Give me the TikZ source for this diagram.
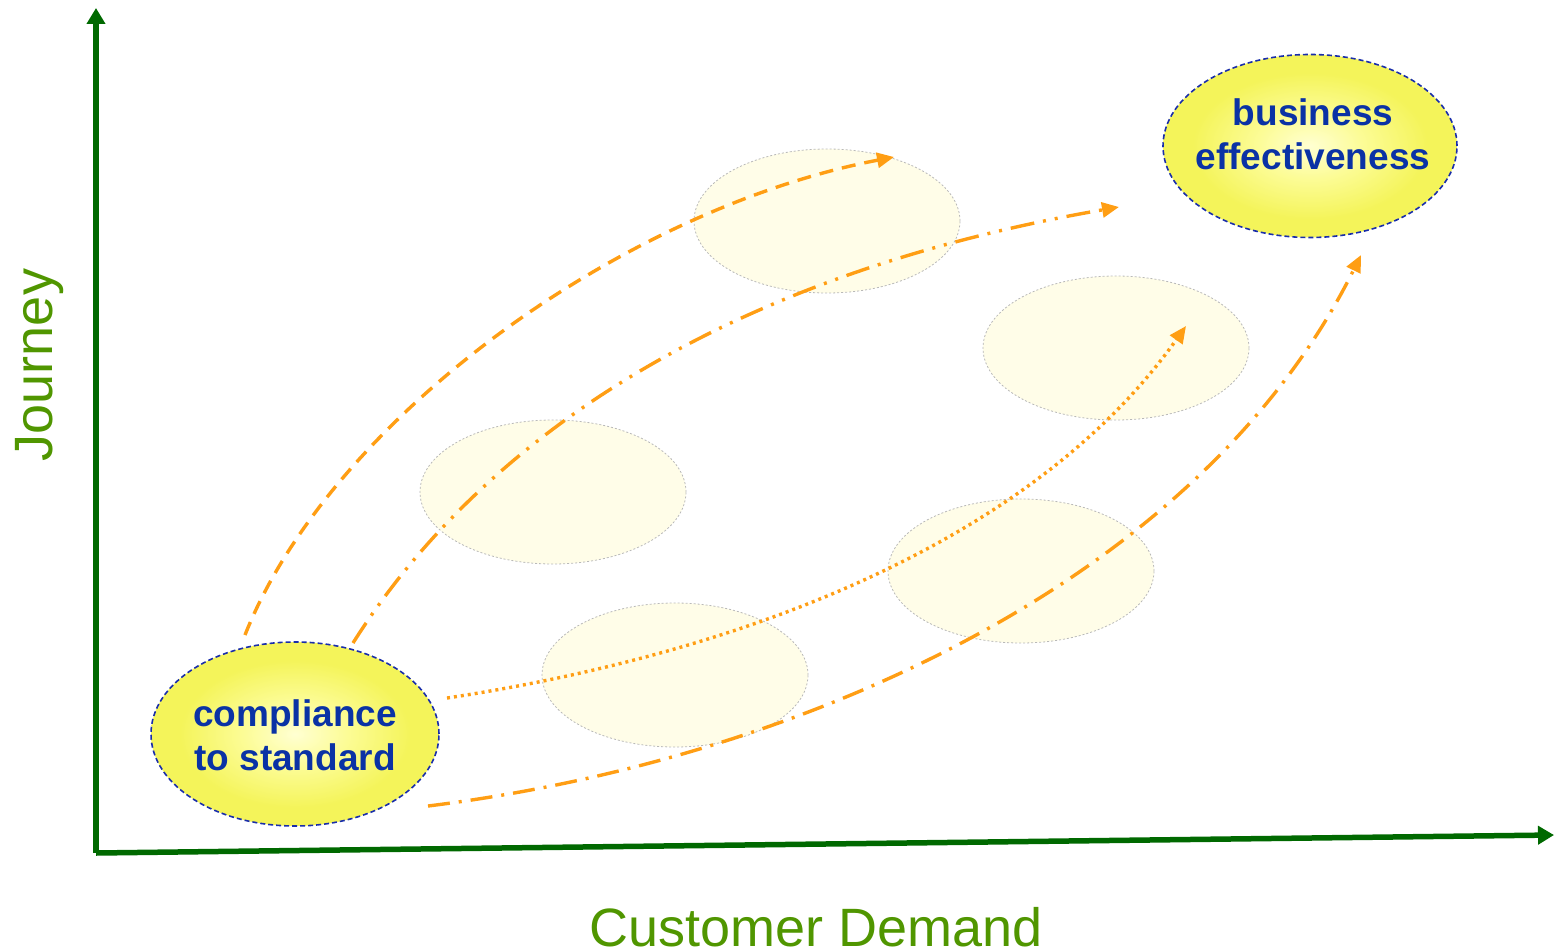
\documentclass[tikz,border=0pt]{standalone}
\usepackage{fontspec}
\setmainfont{Liberation Sans}
\usetikzlibrary{arrows.meta,shapes.geometric}
\definecolor{axisgreen}{RGB}{0,105,0}
\definecolor{labelgreen}{RGB}{80,150,0}
\definecolor{arroworange}{RGB}{255,158,20}
\definecolor{textblue}{RGB}{10,50,165}
\definecolor{borderblue}{RGB}{25,45,170}
\definecolor{palefill}{RGB}{255,253,232}
\definecolor{palegray}{RGB}{185,185,185}
\definecolor{yelcenter}{RGB}{255,255,210}
\definecolor{yelmid}{RGB}{252,252,150}
\definecolor{yeledge}{RGB}{244,244,90}
\pgfdeclareradialshading{yelglow}{\pgfpoint{0bp}{0bp}}{color(0bp)=(yelcenter); color(9bp)=(yelmid); color(20bp)=(yeledge); color(25bp)=(yeledge); color(50bp)=(yeledge)}
\tikzset{
  axisline/.style={draw=axisgreen, line width=5.5pt, -{Triangle[length=16pt,width=18pt]}},
  ghost/.style={ellipse, draw=palegray, line width=0.8pt, dash pattern=on 2pt off 2pt, fill=palefill, minimum width=266pt, minimum height=144pt, inner sep=0pt},
  goal/.style={ellipse, draw=borderblue, line width=1.6pt, dash pattern=on 5pt off 3pt, shading=yelglow, inner sep=0pt},
  goaltext/.style={text=textblue, font=\fontsize{37}{44}\selectfont\bfseries, align=center},
  orangearrow/.style={draw=arroworange, line width=3.4pt, -{Triangle[length=17pt,width=15pt]}},
  axislabel/.style={text=labelgreen, font=\fontsize{54}{60}\selectfont}
}
\begin{document}
\begin{tikzpicture}[x=1pt,y=-1pt]
\useasboundingbox (0,0) rectangle (1554,952);
% light ellipses
\node[ghost] (e1) at (827,221) {};
\node[ghost] (e2) at (553,492) {};
\node[ghost] (e3) at (1116,348) {};
\node[ghost] (e4) at (1021,571) {};
\node[ghost] (e5) at (675,675) {};
% axes
\coordinate (origin) at (96,853);
\coordinate (ytip) at (96,8);
\coordinate (xtip) at (1554,835);
\draw[axisline] (origin) -- (ytip);
\draw[axisline] (origin) -- (xtip);
\node[axislabel, rotate=90, anchor=base] (journey) at (52,365) {Journey};
\node[axislabel, anchor=base] (demand) at (816,946) {Customer Demand};
% goal ellipses
\node[goal, minimum width=288pt, minimum height=184pt] (comp) at (295,734) {};
\node[goaltext] (comptext) at (295,735) {compliance\\to standard};
\node[goal, minimum width=294pt, minimum height=183pt] (biz) at (1310,146) {};
\node[goaltext] (biztext) at (1313,134) {business\\effectiveness};
% arrow end points
\coordinate (a1s) at (245,635);
\coordinate (a1e) at (894,157);
\coordinate (a2s) at (353,643);
\coordinate (a2e) at (1119,207);
\coordinate (a3s) at (447,698);
\coordinate (a3e) at (1186,326);
\coordinate (a4s) at (428,806);
\coordinate (a4e) at (1361,255);
% arrows
\draw[orangearrow, dash pattern=on 14pt off 9pt] (a1s) .. controls (330,420) and (620,210) .. (a1e);
\draw[orangearrow, dash pattern=on 24pt off 9pt on 3pt off 9pt on 3pt off 9pt] (a2s) .. controls (440,505) and (640,290) .. (a2e);
\draw[orangearrow, dash pattern=on 3pt off 4pt] (a3s) .. controls (700,660) and (1020,560) .. (a3e);
\draw[orangearrow, dash pattern=on 22pt off 9pt on 3pt off 9pt] (a4s) .. controls (800,760) and (1200,580) .. (a4e);
\end{tikzpicture}
\end{document}
